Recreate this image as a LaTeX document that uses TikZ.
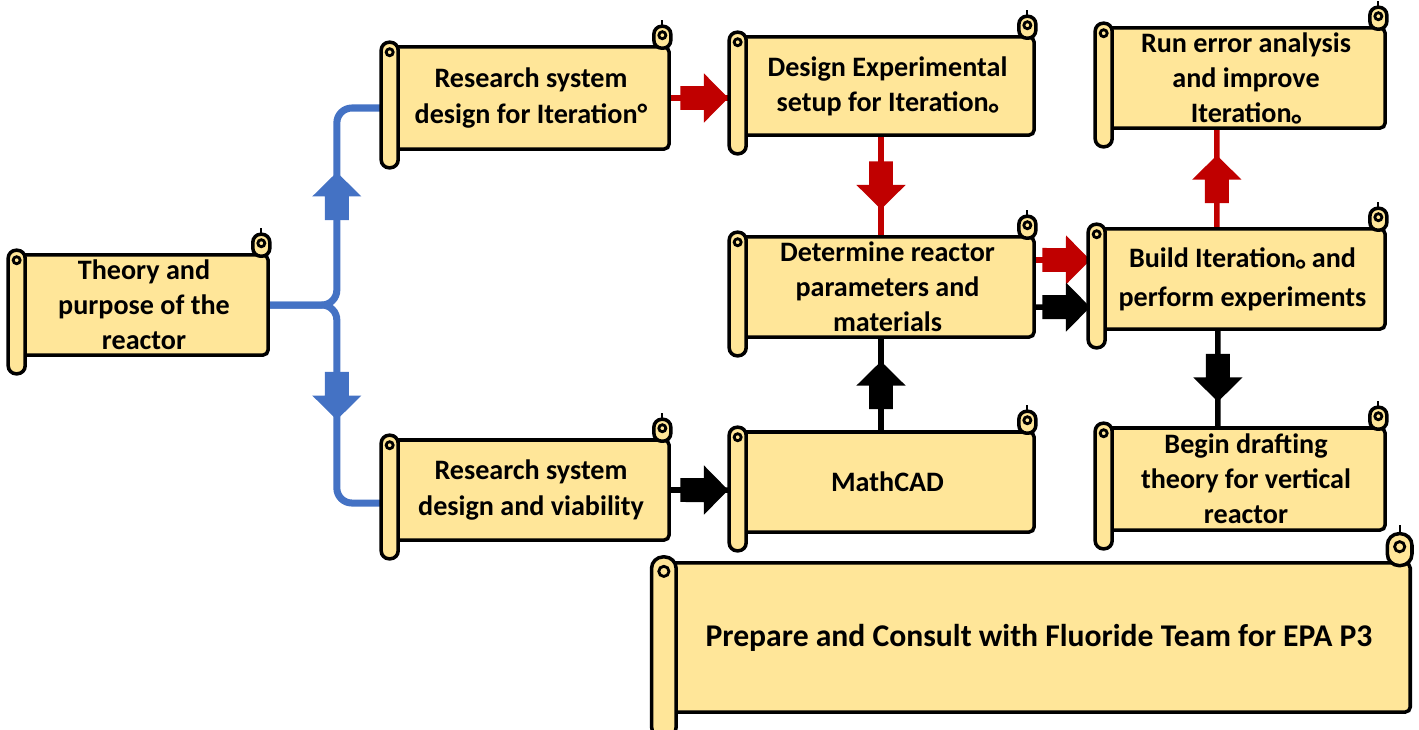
\documentclass[tikz,border=0pt]{standalone}
\usepackage{fontspec}
\setmainfont{Carlito}
\usetikzlibrary{arrows.meta,backgrounds,decorations.markings}

\definecolor{scrollfill}{HTML}{FFE699}
\definecolor{linkred}{HTML}{C00000}
\definecolor{linkblue}{HTML}{4472C4}

\newcommand{\itsub}{\raisebox{-0.42em}[0pt][0pt]{°}}

% left roll and top right curl of a scroll
\newcommand{\rollup}[2][1]{%
  \draw[rollpart, rounded corners=0.8mm*#1] ([shift={({-10*#1},{-3*#1})}]#2.north west) rectangle ([shift={({7*#1},{17*#1})}]#2.south west);
  \draw[line width=0.8pt] ([shift={({-1.5*#1},{7*#1})}]#2.north west) circle[radius=1pt*#1];
  \draw[rollpart, rounded corners=0.8mm*#1] ([shift={({-17*#1},{-19*#1})}]#2.north east) rectangle ([shift={(0,{3*#1})}]#2.north east);
  \draw[line width=0.8pt] ([shift={({-8.5*#1},{-10*#1})}]#2.north east) circle[radius=1pt*#1];
  \draw[line width=0.6pt] ([shift={({-8.5*#1},{-19*#1})}]#2.north east) -- ++(0,{-6*#1});
}

\tikzset{
  scroll/.style={draw, fill=scrollfill, line width=1pt, rounded corners=0.5mm, inner sep=0pt, align=center,
    font=\fontsize{8}{10}\selectfont\bfseries},
  rollpart/.style={draw, fill=scrollfill, line width=1pt},
  blockmid/.style={postaction={decorate, decoration={markings, mark=at position #1 with
    {\fill[sharp corners] (-7pt,-3.4pt) -- (-0.3pt,-3.4pt) -- (-0.3pt,-7pt) -- (6.6pt,0pt) -- (-0.3pt,7pt) -- (-0.3pt,3.4pt) -- (-7pt,3.4pt) -- cycle;}}}},
  redlink/.style={line width=1.6pt, color=linkred, blockmid=0.5},
  blacklink/.style={line width=1.6pt, color=black, blockmid=0.5},
  bluelink/.style={line width=2pt, color=linkblue, rounded corners=1.5mm, blockmid=#1},
}

\begin{document}
\begin{tikzpicture}[x=0.01cm, y=-0.01cm]
  \useasboundingbox (0,0) rectangle (1419,729);
  %\draw[very thin,lightgray] (0,0) grid[step=100] (1419,729);

  \node[scroll, minimum width=2.48cm, minimum height=1cm] (theory) at (144,305) {Theory and\\purpose of the\\reactor};
  \node[scroll, minimum width=2.76cm, minimum height=1.02cm] (resone) at (531,98) {Research system\\design for Iteration°};
  \node[scroll, minimum width=2.76cm, minimum height=1cm] (restwo) at (531,490) {Research system\\design and viability};
  \node[scroll, minimum width=2.93cm, minimum height=0.98cm] (design) at (887.5,86) {Design Experimental\\setup for Iteration\itsub};
  \node[scroll, minimum width=2.93cm, minimum height=1cm] (determine) at (887.5,287) {Determine reactor\\parameters and\\materials};
  \node[scroll, minimum width=2.93cm, minimum height=1cm] (mathcad) at (887.5,482) {MathCAD};
  \node[scroll, minimum width=2.78cm, minimum height=1cm] (errors) at (1246,78) {Run error analysis\\and improve\\Iteration\itsub};
  \node[scroll, minimum width=2.85cm, minimum height=1cm] (build) at (1242.5,279) {Build Iteration\itsub{} and\\[1pt]perform experiments};
  \node[scroll, minimum width=2.78cm, minimum height=1.02cm] (drafting) at (1246,479) {Begin drafting\\theory for vertical\\reactor};
  \node[scroll, minimum width=7.42cm, minimum height=1.49cm, font=\fontsize{9}{11}\selectfont\bfseries] (consult) at (1039,637.5) {Prepare and Consult with Fluoride Team for EPA P3};

  \foreach \n in {theory,resone,restwo,design,determine,mathcad,errors,build,drafting}
    \rollup{\n};
  \rollup[1.45]{consult};

  \begin{scope}[on background layer]
    \draw[bluelink=1.70cm] (theory.east) -- ++(67,0) |- ([shift={(-10,10)}]resone.west);
    \draw[bluelink=1.52cm] (theory.east) -- ++(67,0) |- ([shift={(-10,13)}]restwo.west);
    \draw[redlink] (resone.east) -- ([yshift=-3.4pt]design.west);
    \draw[redlink] ([xshift=-1.85pt]design.south) -- ([xshift=-1.85pt]determine.north);
    \draw[blacklink] ([xshift=-1.85pt]mathcad.north) -- ([xshift=-1.85pt]determine.south);
    \draw[blacklink] (restwo.east) -- ([yshift=-2.3pt]mathcad.west);
    \draw[redlink] ([yshift=7.7pt]determine.east) -- ([yshift=5.4pt]build.west);
    \draw[blacklink] ([yshift=-5.7pt]determine.east) -- ([yshift=-8pt]build.west);
    \draw[redlink] ([xshift=-7.3pt]build.north) -- ([xshift=-8.3pt]errors.south);
    \draw[blacklink] ([xshift=-7pt]build.south) -- ([xshift=-8pt]drafting.north);
  \end{scope}
\end{tikzpicture}
\end{document}
